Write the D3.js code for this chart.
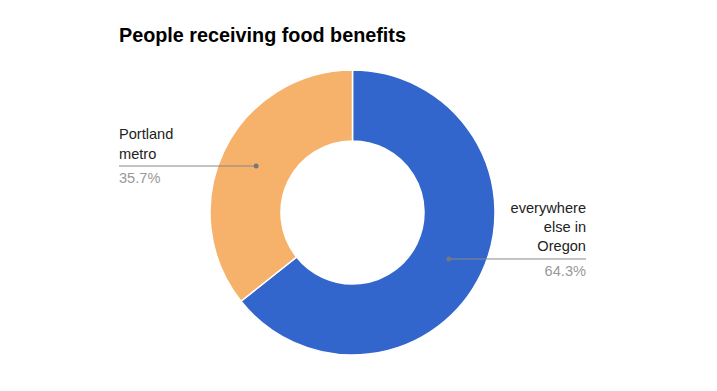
<!DOCTYPE html>
<html>
<head>
<meta charset="utf-8">
<script src="https://cdn.jsdelivr.net/npm/d3@7"></script>
<style>
  body { margin: 0; background: #fff; }
  svg { display: block; font-family: "Liberation Sans", Arial, sans-serif; }
</style>
</head>
<body>
<div id="chart"></div>
<script>
// data
const categories = ["everywhere else in Oregon", "Portland metro"];
const values = [64.3, 35.7];
const colors = ["#3366cc", "#f6b26b"];
// label lines per slice
const labelLines = [["everywhere", "else in", "Oregon"], ["Portland", "metro"]];

const width = 717, height = 391;
const cx = 352.5, cy = 212.5;
const outerR = 142.5, innerR = 71.5;

const svg = d3.select("#chart").append("svg")
  .attr("width", width)
  .attr("height", height);

svg.append("text")
  .attr("x", 119)
  .attr("y", 42)
  .attr("font-size", "19.8px")
  .attr("font-weight", "bold")
  .attr("fill", "#000")
  .text("People receiving food benefits");

const pie = d3.pie().sort(null).value(d => d);
const arcs = pie(values);
const arc = d3.arc().innerRadius(innerR).outerRadius(outerR);
const midArc = d3.arc().innerRadius((innerR + outerR) / 2).outerRadius((innerR + outerR) / 2);

const g = svg.append("g").attr("transform", `translate(${cx},${cy})`);

g.selectAll("path")
  .data(arcs)
  .enter()
  .append("path")
    .attr("d", arc)
    .attr("fill", (d, i) => colors[i])
    .attr("stroke", "#fff")
    .attr("stroke-width", 1.5);

// labels: right side for slices on the right, left for slices on the left
const labelX = { right: 586, left: 119 };
const lineH = 19.3;

arcs.forEach((d, i) => {
  const [px, py] = midArc.centroid(d);
  const ax = cx + px, ay = cy + py;
  const onRight = px > 0;
  const edge = onRight ? labelX.right : labelX.left;
  const anchor = onRight ? "end" : "start";
  const lines = labelLines[i];

  svg.append("line")
    .attr("x1", ax).attr("y1", ay)
    .attr("x2", edge).attr("y2", ay)
    .attr("stroke", "#888")
    .attr("stroke-width", 1);
  svg.append("circle")
    .attr("cx", ax).attr("cy", ay)
    .attr("r", 2.5)
    .attr("fill", "#777");

  lines.forEach((t, j) => {
    svg.append("text")
      .attr("x", edge)
      .attr("y", ay - 7.5 - (lines.length - 1 - j) * lineH)
      .attr("text-anchor", anchor)
      .attr("font-size", "14.6px")
      .attr("fill", "#222")
      .text(t);
  });

  svg.append("text")
    .attr("x", edge)
    .attr("y", ay + 16.7)
    .attr("text-anchor", anchor)
    .attr("font-size", "14.6px")
    .attr("fill", "#999")
    .text(d3.format(".1f")(values[i]) + "%");
});
</script>
</body>
</html>
